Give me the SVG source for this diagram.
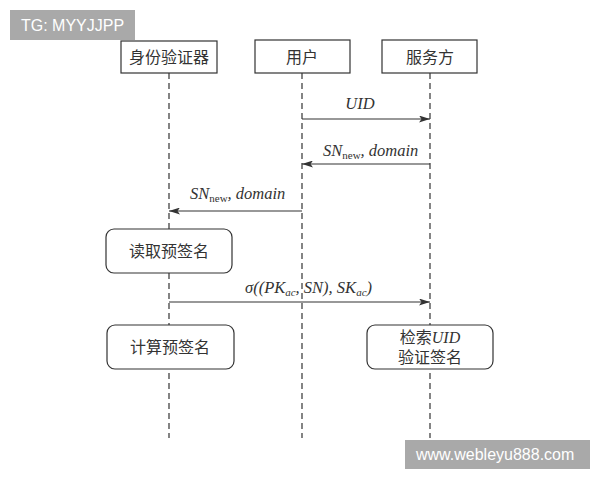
<svg xmlns="http://www.w3.org/2000/svg" width="600" height="480" viewBox="0 0 600 480">
<style>
.box{fill:#fff;stroke:#333;stroke-width:1.2}
.life{stroke:#333;stroke-width:1.2;stroke-dasharray:6 4;fill:none}
.msg{stroke:#333;stroke-width:1.2;fill:none}
.cn{font-family:"Liberation Serif","Noto Sans CJK SC",serif;font-size:16px;fill:#333;text-anchor:middle}
.lbl{font-family:"Liberation Serif","Noto Sans CJK SC",serif;font-size:16.5px;font-style:italic;fill:#333}
.sub{font-size:11px;font-style:normal}
.sube{font-size:11px}
.wm{fill:#a9a9a9}
.wmt{font-family:"Liberation Sans",Arial,sans-serif;font-size:16px;fill:#fff}
</style>
<defs>
<marker id="ah" viewBox="0 0 11 7" refX="11" refY="3.5" markerWidth="11" markerHeight="7" markerUnits="userSpaceOnUse" orient="auto">
<path d="M0,0 L11,3.5 L0,7 L2.5,3.5 Z" fill="#333"/>
</marker>
</defs>
<rect width="600" height="480" fill="#fff"/>
<g id="lifelines">
<line class="life" x1="169" y1="73" x2="169" y2="438"/>
<line class="life" x1="302" y1="73" x2="302" y2="438"/>
<line class="life" x1="430" y1="73" x2="430" y2="438"/>
</g>
<g id="connectors">
<line class="msg" x1="302" y1="119" x2="430" y2="119" marker-end="url(#ah)"/>
<line class="msg" x1="430" y1="164" x2="302" y2="164" marker-end="url(#ah)"/>
<line class="msg" x1="302" y1="211" x2="169" y2="211" marker-end="url(#ah)"/>
<line class="msg" x1="169" y1="302" x2="430" y2="302" marker-end="url(#ah)"/>
<text class="lbl" x="360" y="109" text-anchor="middle">UID</text>
<text class="lbl" x="323" y="156">SN<tspan class="sub" dy="3">new</tspan><tspan dy="-3">, domain</tspan></text>
<text class="lbl" x="190" y="199">SN<tspan class="sub" dy="3">new</tspan><tspan dy="-3">, domain</tspan></text>
<text class="lbl" x="245" y="293">σ((PK<tspan class="sube" dy="3">ac</tspan><tspan dy="-3">, SN), SK</tspan><tspan class="sube" dy="3">ac</tspan><tspan dy="-3">)</tspan></text>
</g>
<g id="auth">
<rect class="box" x="121" y="41" width="96" height="32"/>
<text class="cn" x="169" y="63">身份验证器</text>
</g>
<g id="user">
<rect class="box" x="255" y="40" width="95" height="33"/>
<text class="cn" x="302" y="63">用户</text>
</g>
<g id="server">
<rect class="box" x="382" y="40" width="95" height="33"/>
<text class="cn" x="430" y="63">服务方</text>
</g>
<g id="read">
<rect class="box" x="106" y="229" width="126" height="44" rx="8"/>
<text class="cn" x="169" y="257">读取预签名</text>
</g>
<g id="compute">
<rect class="box" x="107" y="325" width="127" height="44" rx="8"/>
<text class="cn" x="170" y="353">计算预签名</text>
</g>
<g id="verify">
<rect class="box" x="367" y="325" width="126" height="44" rx="8"/>
<text class="cn" x="430" y="343">检索<tspan font-style="italic">UID</tspan></text>
<text class="cn" x="430" y="363">验证签名</text>
</g>
<g id="watermarks">
<rect class="wm" x="10" y="10" width="125" height="30"/>
<text class="wmt" x="21" y="31">TG: MYYJJPP</text>
<rect class="wm" x="405" y="440" width="185" height="29"/>
<text class="wmt" x="416" y="460">www.webleyu888.com</text>
</g>
</svg>
